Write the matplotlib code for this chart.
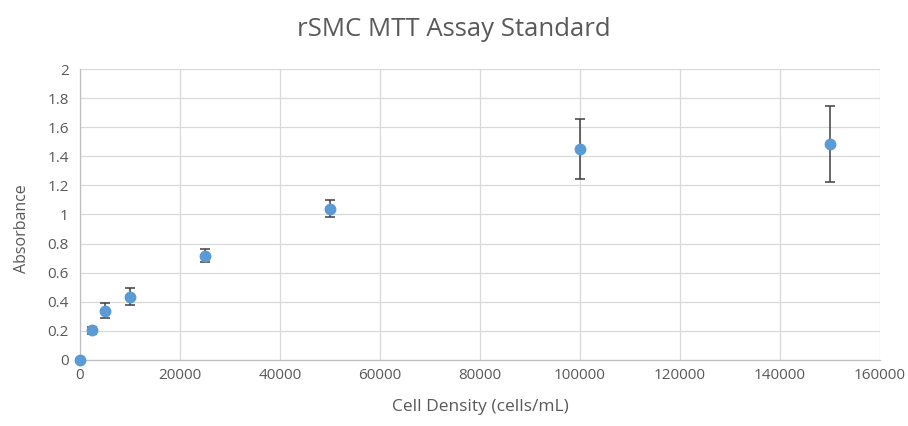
import matplotlib
matplotlib.use("Agg")
import matplotlib.pyplot as plt

# Cell density standards and mean absorbance with standard deviation
density = [0, 2500, 5000, 10000, 25000, 50000, 100000, 150000]
absorbance = [0.0, 0.205, 0.34, 0.435, 0.715, 1.04, 1.45, 1.485]
abs_err = [0.0, 0.025, 0.05, 0.06, 0.045, 0.06, 0.205, 0.26]

x_ticks = [0, 20000, 40000, 60000, 80000, 100000, 120000, 140000, 160000]
y_ticks = [0, 0.2, 0.4, 0.6, 0.8, 1, 1.2, 1.4, 1.6, 1.8, 2]

plt.rcParams['font.family'] = ['Open Sans', 'DejaVu Sans']

fig = plt.figure(figsize=(9.08, 4.26), dpi=100)
ax = fig.add_axes([0.0881, 0.155, 0.8811, 0.683])

container = ax.errorbar(density, absorbance, yerr=abs_err, fmt='o', color='#5B9BD5',
                        markersize=7.5, ecolor='#404040', elinewidth=1.1, capsize=3.5,
                        capthick=1.1, zorder=3)
for artist in [container.lines[0]] + list(container.lines[1]) + list(container.lines[2]):
    artist.set_clip_on(False)

ax.set_xlim(0, 160000)
ax.set_ylim(0, 2)
ax.set_xticks(x_ticks)
ax.set_xticklabels([str(t) for t in x_ticks])
ax.set_yticks(y_ticks)
ax.set_yticklabels([f"{t:g}" for t in y_ticks])
ax.tick_params(axis='both', length=0, labelsize=11, colors='#595959')
ax.tick_params(axis='x', pad=6)
ax.tick_params(axis='y', pad=8)

ax.grid(True, color='#D9D9D9', linewidth=0.9)
ax.set_axisbelow(True)
for side in ['top', 'right']:
    ax.spines[side].set_visible(False)
for side in ['left', 'bottom']:
    ax.spines[side].set_color('#BFBFBF')
    ax.spines[side].set_linewidth(0.9)

ax.set_xlabel('Cell Density (cells/mL)', fontsize=12.5, color='#595959', labelpad=11)
ax.set_ylabel('Absorbance', fontsize=11.5, color='#595959')
ax.yaxis.set_label_coords(-0.0625, 0.45)
fig.suptitle('rSMC MTT Assay Standard', fontsize=18.5, color='#595959', y=0.96)

fig.savefig('out.png', dpi=100)
